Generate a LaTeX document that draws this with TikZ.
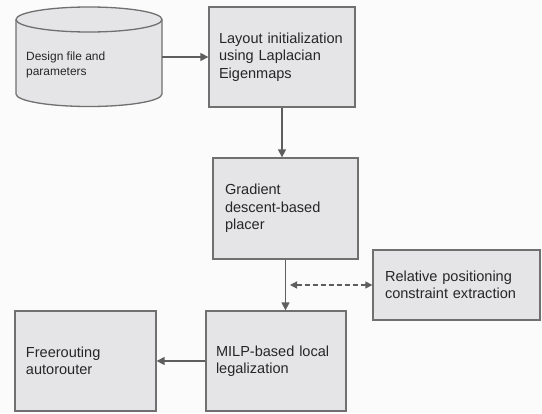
\documentclass[tikz,border=0pt]{standalone}
\usepackage{fontspec}
\setmainfont{Liberation Sans}
\usetikzlibrary{arrows.meta,calc}
\definecolor{bgc}{HTML}{FBFBFB}
\definecolor{boxfill}{HTML}{E5E5E7}
\definecolor{boxline}{HTML}{707070}
\definecolor{arrowc}{HTML}{5E5E5E}
\definecolor{txt}{HTML}{262626}
\begin{document}
\begin{tikzpicture}[x=1bp,y=1bp,
  procbox/.style={draw=boxline, fill=boxfill, line width=1.3bp, inner xsep=10bp,
    align=left, text=txt, font=\fontsize{14.6}{17.5}\selectfont},
  flow/.style={draw=arrowc, line width=1.4bp, -{Triangle[length=8bp,width=8bp]}},
  dflow/.style={draw=arrowc, line width=1.3bp, dash pattern=on 5bp off 3bp,
    {Triangle[length=7bp,width=7bp]}-{Triangle[length=7bp,width=7bp]}}
]
\fill[bgc] (0,0) rectangle (542,413);
\useasboundingbox (0,0) rectangle (542,413);

% cylinder (drawn directly) with a named frame node
\node[minimum width=146bp, minimum height=100bp, inner sep=0] (db) at (89,356) {};
\filldraw[draw=boxline, fill=boxfill, line width=1.3bp]
  (16,393.5) -- (16,319) arc[start angle=180, end angle=360, x radius=73, y radius=12.5]
  -- (162,393.5) arc[start angle=0, end angle=180, x radius=73, y radius=12.5] -- cycle;
\draw[boxline, line width=1.3bp] (16,393.5) arc[start angle=180, end angle=360, x radius=73, y radius=12.5];
\node[anchor=west, inner sep=0, align=left, text=txt, font=\fontsize{12}{15}\selectfont] (dbtext) at (26,348.5)
  {Design file and\\parameters};

\node[procbox, minimum width=146bp, minimum height=100bp, text width=126bp, inner xsep=10bp] (lay) at (282,356)
  {Layout initialization\\using Laplacian\\Eigenmaps};
\node[procbox, minimum width=145bp, minimum height=101bp, text width=121bp, inner xsep=12bp] (grad) at (285.5,204.5)
  {Gradient\\descent-based\\placer};
\node[procbox, minimum width=167bp, minimum height=70bp, text width=143bp, inner xsep=12bp] (rel) at (456.5,128)
  {Relative positioning\\constraint extraction};
\node[procbox, minimum width=140bp, minimum height=100bp, text width=120bp, inner xsep=10bp] (milp) at (276,52)
  {MILP-based local\\legalization};
\node[procbox, minimum width=141bp, minimum height=100bp, text width=119bp, inner xsep=11bp] (free) at (85.5,52)
  {Freerouting\\autorouter};

\draw[flow] (db.east) -- (lay.west);
\draw[flow] (lay.south) -- (lay.south |- grad.north);
\draw[flow] (grad.south) -- (grad.south |- milp.north);
\coordinate (dl) at ([xshift=4.5bp]grad.south |- rel.west);
\draw[dflow] (dl) -- (rel.west);
\draw[flow] (milp.west) -- (free.east);
\end{tikzpicture}
\end{document}
